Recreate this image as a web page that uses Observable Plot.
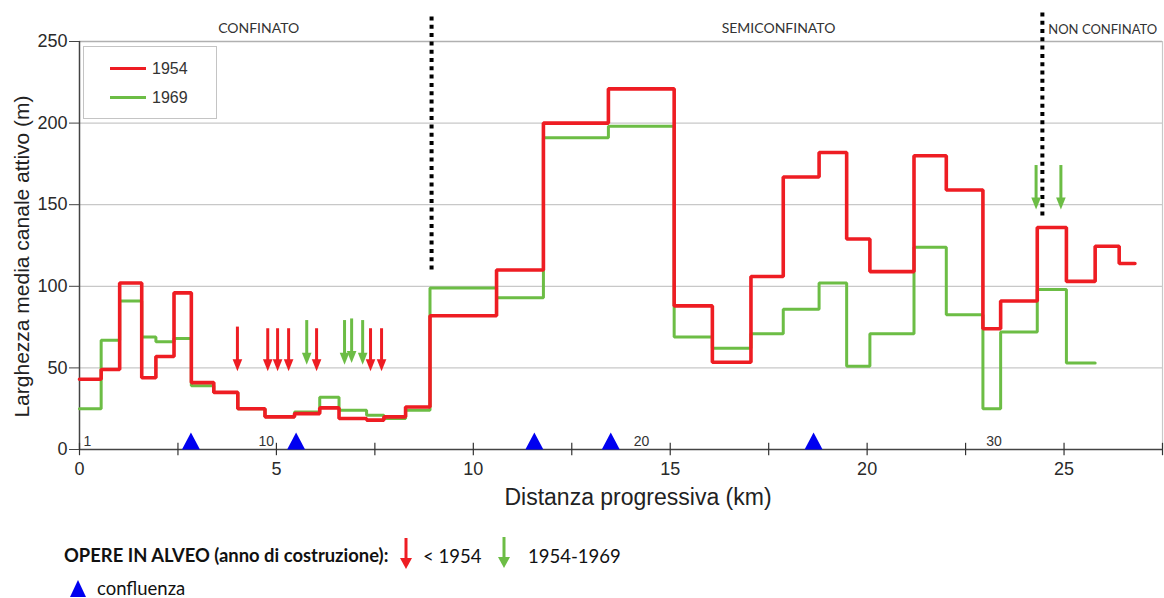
<!DOCTYPE html>
<html>
<head>
<meta charset="utf-8">
<script src="https://cdn.jsdelivr.net/npm/d3@7"></script>
<script src="https://cdn.jsdelivr.net/npm/@observablehq/plot@0.6"></script>
<style>
  html, body { margin: 0; padding: 0; background: #fff; }
  #wrap { position: relative; width: 1164px; height: 598px; background: #fff; overflow: hidden; font-family: "Liberation Sans", Arial, sans-serif; }
  #chart { position: absolute; left: 0; top: 0; }
  .inlegend { position: absolute; left: 83px; top: 46px; width: 132px; height: 71px; border: 1.5px solid #c4c4c4; background: #fff; }
  .inlegend .sw { position: absolute; left: 26px; width: 36px; height: 3px; }
  .inlegend .lb { position: absolute; left: 68px; font-size: 16px; color: #333; line-height: 16px; }
  .bl { position: absolute; font-family: Lato, "Open Sans", sans-serif; color: #111; white-space: nowrap; line-height: 1; }
</style>
</head>
<body>
<div id="wrap">
  <div id="chart"></div>
  <div class="inlegend">
    <div class="sw" id="sw0" style="top:20px"></div><div class="lb" id="lb0" style="top:14px"></div>
    <div class="sw" id="sw1" style="top:49px"></div><div class="lb" id="lb1" style="top:43px"></div>
  </div>
  <div class="bl" id="opere" style="left:64px; top:546px; font-weight:700; font-size:18.4px;"></div>
  <svg style="position:absolute;left:398px;top:536px" width="16" height="36"><line x1="8" y1="2" x2="8" y2="24" stroke="#ee1d23" stroke-width="3"/><path d="M2,22 L14,22 L8,33 Z" fill="#ee1d23"/></svg>
  <div class="bl" id="lg0" style="left:423px; top:547px; font-size:18.5px;"></div>
  <svg style="position:absolute;left:496px;top:535px" width="16" height="36"><line x1="8" y1="2" x2="8" y2="24" stroke="#6cbd45" stroke-width="3"/><path d="M2,22 L14,22 L8,33 Z" fill="#6cbd45"/></svg>
  <div class="bl" id="lg1" style="left:528px; top:547px; font-size:18.5px;"></div>
  <svg style="position:absolute;left:70px;top:579px" width="16" height="19"><path d="M0,18 L16,18 L8,1 Z" fill="#0000f0"/></svg>
  <div class="bl" id="lgc" style="left:97px; top:579px; font-size:18.5px;"></div>
</div>
<script>
// ---- Data ----
const years = ["1954", "1969"];
const stepKm = [0, 0.55, 1.02, 1.58, 1.94, 2.40, 2.84, 3.41, 4.02, 4.71, 5.46, 6.10, 6.59, 7.29, 7.73, 8.28, 8.90,
  10.59, 11.78, 13.43, 15.10, 16.07, 17.05, 17.87, 18.78, 19.48, 20.07, 21.19, 22.01, 22.94, 23.39, 24.32, 25.06, 25.79, 26.40, 26.80];
const width1954 = [43, 49, 102, 44, 57, 96, 41, 35, 25, 20, 22, 25.5, 19, 18, 20, 26, 82,
  110, 200, 221, 88, 53.5, 106, 167, 182, 129, 109, 180, 159, 74, 91, 136, 103, 124.5, 114];
const width1969 = [25, 67, 91, 69, 66, 68, 39, 35, 25, 20, 23, 32, 24, 21, 19, 24, 99,
  93, 191, 198, 69, 62, 71, 86, 102, 51, 71, 124, 82.5, 25, 72, 98, 53];

const opere54Km = [4.01, 4.78, 5.03, 5.31, 6.02, 7.39, 7.67];
const opere54Top = [75, 74, 74, 74, 74, 74, 74];
const opere54Tip = [48, 48, 48, 48, 48, 48, 48];
const opere69Km = [5.77, 6.73, 6.91, 7.19, 24.29, 24.92];
const opere69Top = [79, 79, 80, 79, 174, 174];
const opere69Tip = [52, 52, 53, 52, 147, 147];

const confluenzeKm = [2.83, 5.50, 11.55, 13.49, 18.64];

const sezioneLabels = ["1", "10", "20", "30"];
const sezioneKm = [0.2, 4.74, 14.27, 23.22];

const tratti = ["CONFINATO", "SEMICONFINATO", "NON CONFINATO"];
const trattiKm = [4.55, 17.75, 24.6];
const limitiKm = [8.94, 24.45];
const limitiTop = [266, 269];
const limitiBottom = [110, 143];

const yTicks = [0, 50, 100, 150, 200, 250];
const xLabelTicks = [0, 5, 10, 15, 20, 25];
const xMinorTicks = [0, 2.5, 5, 7.5, 10, 12.5, 15, 17.5, 20, 22.5, 25, 27.5];

const titleX = "Distanza progressiva (km)";
const titleY = "Larghezza media canale attivo (m)";
const legendOpere = "OPERE IN ALVEO (anno di costruzione):";
const legendOpereCats = ["< 1954", "1954-1969"];
const legendConfluenza = "confluenza";

// ---- Styles ----
const RED = "#ee1d23", GREEN = "#6cbd45", BLUE = "#0000f0";

// ---- Build tables ----
function stepSeries(vals, year) {
  const pts = vals.map((v, i) => ({km: stepKm[i], w: v, year}));
  pts.push({km: stepKm[vals.length], w: vals[vals.length - 1], year});
  return pts;
}
const s54 = stepSeries(width1954, years[0]);
const s69 = stepSeries(width1969, years[1]);
const opere = [
  ...opere54Km.map((k, i) => ({km: k, top: opere54Top[i], tip: opere54Tip[i], c: RED})),
  ...opere69Km.map((k, i) => ({km: k, top: opere69Top[i], tip: opere69Tip[i], c: GREEN}))
];
const sezioni = sezioneLabels.map((t, i) => ({t, km: sezioneKm[i]}));
const trattiData = tratti.map((t, i) => ({t, km: trattiKm[i]}));
const limiti = limitiKm.map((k, i) => ({km: k, y1: limitiBottom[i], y2: limitiTop[i]}));

const arrowHead = {draw(ctx) { ctx.moveTo(0, 0); ctx.lineTo(-4.8, -12); ctx.lineTo(4.8, -12); ctx.closePath(); }};
const confSymbol = {draw(ctx) { ctx.moveTo(-9, 0); ctx.lineTo(9, 0); ctx.lineTo(0, -17); ctx.closePath(); }};

const chart = Plot.plot({
  width: 1164, height: 520,
  marginLeft: 79, marginRight: 2, marginTop: 41, marginBottom: 71,
  x: {domain: [0, 27.5]},
  y: {domain: [0, 250]},
  style: {fontFamily: "'Liberation Sans', Arial, sans-serif", background: "white", overflow: "visible"},
  marks: [
    Plot.gridY({ticks: [50, 100, 150, 200], stroke: "#c8c8c8", strokeOpacity: 1, strokeWidth: 1.2}),
    Plot.ruleY([250], {stroke: "#b0b0b0", strokeWidth: 1.6}),
    Plot.ruleX([27.5], {stroke: "#c8c8c8", strokeWidth: 1.2}),
    Plot.axisY({ticks: yTicks, tickSize: 10, tickPadding: 2, fontSize: 18, label: null, color: "#2a2a2a", stroke: "#444"}),
    Plot.ruleX([0], {stroke: "#444", strokeWidth: 1.5}),
    Plot.ruleY([0], {stroke: "#444", strokeWidth: 1.5}),
    Plot.ruleX(xMinorTicks, {x: d => d, y1: -3.8, y2: 3.8, stroke: "#333", strokeWidth: 1.2}),
    Plot.axisX({ticks: xLabelTicks, tickSize: 0, tickPadding: 13, fontSize: 18, label: null, color: "#2a2a2a"}),
    Plot.text([titleX], {frameAnchor: "bottom", textAnchor: "middle", dy: 48, dx: 17, fontSize: 23, lineAnchor: "middle", fill: "#222"}),
    Plot.text([titleY], {frameAnchor: "left", textAnchor: "middle", rotate: -90, dx: -57, dy: 11, fontSize: 21, lineAnchor: "middle", fill: "#222"}),
    Plot.line(s69, {x: "km", y: "w", curve: "step-after", stroke: GREEN, strokeWidth: 3, strokeLinejoin: "miter"}),
    Plot.line(s54, {x: "km", y: "w", curve: "step-after", stroke: RED, strokeWidth: 3.6, strokeLinejoin: "miter"}),
    Plot.ruleX(limiti, {x: "km", y1: "y1", y2: "y2", stroke: "#000", strokeWidth: 4, strokeDasharray: "4,4.3"}),
    Plot.ruleX(opere, {x: "km", y1: "top", y2: d => d.tip + 4, stroke: "c", strokeWidth: 3}),
    Plot.dot(opere, {x: "km", y: "tip", symbol: arrowHead, fill: "c", stroke: "none"}),
    Plot.dot(confluenzeKm, {x: d => d, y: 0, symbol: confSymbol, fill: BLUE, stroke: "none"}),
    Plot.text(sezioni, {x: "km", y: 4.6, text: "t", fontSize: 14, fill: "#333"}),
    Plot.text(trattiData.slice(0, 2), {x: "km", y: 258, text: "t", textAnchor: "middle", fontSize: 14, fontFamily: "Lato, 'Open Sans', sans-serif", fill: "#333"}),
    Plot.text(trattiData.slice(2), {x: "km", y: 257, text: "t", textAnchor: "start", fontSize: 13, fontFamily: "Lato, 'Open Sans', sans-serif", fill: "#333"})
  ]
});
document.getElementById("chart").appendChild(chart);

document.getElementById("sw0").style.background = RED;
document.getElementById("sw1").style.background = GREEN;
document.getElementById("lb0").textContent = years[0];
document.getElementById("lb1").textContent = years[1];
document.getElementById("opere").textContent = legendOpere;
document.getElementById("lg0").textContent = legendOpereCats[0];
document.getElementById("lg1").textContent = legendOpereCats[1];
document.getElementById("lgc").textContent = legendConfluenza;
</script>
</body>
</html>
